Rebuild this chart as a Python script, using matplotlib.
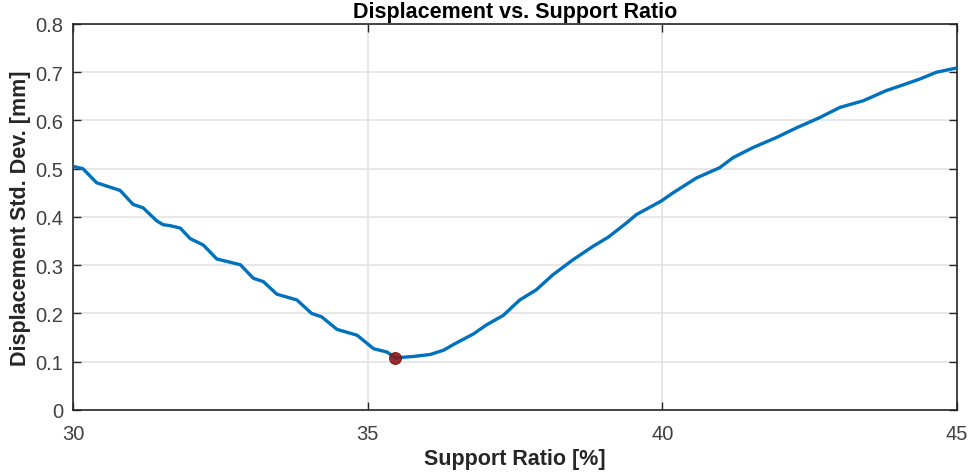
import matplotlib
matplotlib.use("Agg")
import matplotlib.pyplot as plt

plt.rcParams['font.family'] = ['Liberation Sans', 'DejaVu Sans']

# support ratio [%] and displacement std. dev. [mm]
support_ratio = [30.0, 30.17, 30.40, 30.80, 31.02, 31.19, 31.42, 31.53, 31.65, 31.82,
                 31.99, 32.21, 32.44, 32.84, 33.06, 33.23, 33.46, 33.80, 34.05, 34.22,
                 34.48, 34.82, 35.10, 35.33, 35.47, 35.78, 36.06, 36.29, 36.46, 36.80,
                 37.01, 37.30, 37.58, 37.86, 38.14, 38.48, 38.82, 39.08, 39.39, 39.56,
                 39.98, 40.18, 40.58, 40.97, 41.20, 41.54, 41.94, 42.28, 42.67, 43.01,
                 43.41, 43.80, 44.09, 44.37, 44.65, 45.0]
disp_std = [0.505, 0.500, 0.471, 0.455, 0.426, 0.419, 0.392, 0.384, 0.382, 0.377,
            0.355, 0.342, 0.313, 0.301, 0.273, 0.266, 0.240, 0.228, 0.200, 0.193,
            0.167, 0.155, 0.127, 0.120, 0.108, 0.111, 0.115, 0.124, 0.136, 0.158,
            0.176, 0.196, 0.228, 0.249, 0.280, 0.311, 0.339, 0.358, 0.3875, 0.405,
            0.433, 0.450, 0.481, 0.502, 0.523, 0.544, 0.565, 0.585, 0.606, 0.627,
            0.641, 0.662, 0.674, 0.686, 0.700, 0.709]
min_ratio = 35.47
min_disp = 0.108

fig = plt.figure(figsize=(9.72, 4.77), dpi=100)
ax = fig.add_axes([0.0751, 0.1384, 0.9095, 0.8092])

ax.plot(support_ratio, disp_std, color='#0072BD', linewidth=2.4, zorder=3)
ax.plot(min_ratio, min_disp, 'o', color='#8B1A1A', markersize=8.5, alpha=0.9,
        markeredgecolor='#7a1010', markeredgewidth=0.8, zorder=4)

ax.set_xlim(30, 45)
ax.set_ylim(0, 0.8)
ax.set_xticks([30, 35, 40, 45])
ax.set_yticks([0, 0.1, 0.2, 0.3, 0.4, 0.5, 0.6, 0.7, 0.8])
ax.set_yticklabels(['0', '0.1', '0.2', '0.3', '0.4', '0.5', '0.6', '0.7', '0.8'])
ax.grid(True, color='#e3e3e3', linewidth=1.2)
ax.set_axisbelow(True)
ax.tick_params(direction='in', top=True, right=True, length=6, width=1,
               color='#262626', labelcolor='#404040', labelsize=14.5)
ax.tick_params(axis='x', pad=10)
ax.tick_params(axis='y', pad=7)
for s in ax.spines.values():
    s.set_color('#262626')
    s.set_linewidth(1.2)

ax.set_xlabel('Support Ratio [%]', fontsize=15.5, fontweight='bold', color='#262626',
              labelpad=4)
ax.set_ylabel('Displacement Std. Dev. [mm]', fontsize=15.5, fontweight='bold', color='#262626',
              labelpad=3)
ax.set_title('Displacement vs. Support Ratio', fontsize=15.5, fontweight='bold', pad=5)

fig.savefig('out.png', dpi=100)
